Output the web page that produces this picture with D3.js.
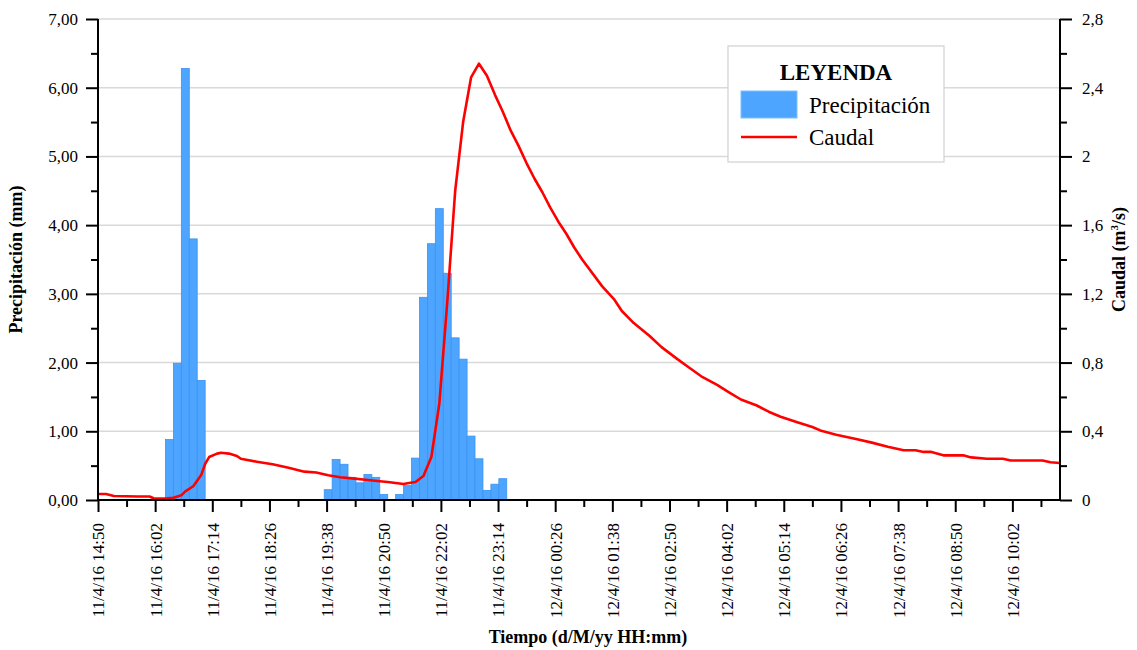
<!DOCTYPE html>
<html><head><meta charset="utf-8">
<script src="https://cdn.jsdelivr.net/npm/d3@7"></script>
<style>
body{margin:0;background:#fff}
svg{display:block}
text{font-family:"Liberation Serif","Times New Roman",serif;fill:#000}
</style>
</head><body>
<svg id="chart" width="1137" height="650"></svg>
<script>
// ---------- DATA ----------
const precipTime = [
  "11/4/16 16:20","11/4/16 16:30","11/4/16 16:40","11/4/16 16:50","11/4/16 17:00",
  "11/4/16 19:40","11/4/16 19:50","11/4/16 20:00","11/4/16 20:10","11/4/16 20:20",
  "11/4/16 20:30","11/4/16 20:40","11/4/16 20:50","11/4/16 21:00","11/4/16 21:10",
  "11/4/16 21:20","11/4/16 21:30","11/4/16 21:40","11/4/16 21:50","11/4/16 22:00",
  "11/4/16 22:10","11/4/16 22:20","11/4/16 22:30","11/4/16 22:40","11/4/16 22:50",
  "11/4/16 23:00","11/4/16 23:10","11/4/16 23:20"
];
const precipValue = [
  0.88, 1.99, 6.28, 3.80, 1.74,
  0.15, 0.59, 0.52, 0.33, 0.25,
  0.37, 0.33, 0.08, 0.00, 0.08,
  0.21, 0.61, 2.95, 3.73, 4.24,
  3.30, 2.36, 2.05, 0.93, 0.60,
  0.14, 0.23, 0.31
];

const caudalTime = [
  "11/4/16 14:50","11/4/16 15:00","11/4/16 15:10","11/4/16 15:40","11/4/16 15:55",
  "11/4/16 16:00","11/4/16 16:15","11/4/16 16:25","11/4/16 16:35","11/4/16 16:40",
  "11/4/16 16:50","11/4/16 17:00","11/4/16 17:05","11/4/16 17:10","11/4/16 17:20",
  "11/4/16 17:25","11/4/16 17:35","11/4/16 17:45","11/4/16 17:50","11/4/16 18:10",
  "11/4/16 18:30","11/4/16 18:50","11/4/16 19:10","11/4/16 19:25","11/4/16 19:40",
  "11/4/16 19:55","11/4/16 20:10","11/4/16 20:30","11/4/16 20:45","11/4/16 20:55",
  "11/4/16 21:15","11/4/16 21:20","11/4/16 21:30","11/4/16 21:40","11/4/16 21:50",
  "11/4/16 22:00","11/4/16 22:10","11/4/16 22:20","11/4/16 22:30","11/4/16 22:40",
  "11/4/16 22:50","11/4/16 23:00","11/4/16 23:10","11/4/16 23:20","11/4/16 23:30",
  "11/4/16 23:40","11/4/16 23:50","12/4/16 00:00","12/4/16 00:10","12/4/16 00:20",
  "12/4/16 00:30","12/4/16 00:40","12/4/16 00:50","12/4/16 01:00","12/4/16 01:25",
  "12/4/16 01:40","12/4/16 01:50","12/4/16 02:05","12/4/16 02:25","12/4/16 02:40",
  "12/4/16 03:00","12/4/16 03:15","12/4/16 03:30","12/4/16 03:50","12/4/16 04:05",
  "12/4/16 04:20","12/4/16 04:40","12/4/16 04:55","12/4/16 05:10","12/4/16 05:30",
  "12/4/16 05:50","12/4/16 06:00","12/4/16 06:20","12/4/16 06:45","12/4/16 07:05",
  "12/4/16 07:25","12/4/16 07:45","12/4/16 08:00","12/4/16 08:10","12/4/16 08:20",
  "12/4/16 08:35","12/4/16 09:00","12/4/16 09:10","12/4/16 09:30","12/4/16 09:50",
  "12/4/16 10:00","12/4/16 10:40","12/4/16 10:50","12/4/16 11:02"
];
const caudalValue = [
  0.035, 0.035, 0.023, 0.020, 0.020,
  0.010, 0.008, 0.013, 0.027, 0.050,
  0.080, 0.145, 0.210, 0.250, 0.270,
  0.275, 0.270, 0.256, 0.240, 0.223,
  0.208, 0.188, 0.165, 0.160, 0.144,
  0.132, 0.126, 0.116, 0.109, 0.105,
  0.093, 0.097, 0.105, 0.140, 0.250,
  0.560, 1.150, 1.800, 2.200, 2.460,
  2.540, 2.470, 2.360, 2.260, 2.150,
  2.060, 1.960, 1.870, 1.790, 1.700,
  1.620, 1.550, 1.470, 1.400, 1.245,
  1.170, 1.100, 1.030, 0.955, 0.890,
  0.820, 0.770, 0.720, 0.670, 0.627,
  0.585, 0.550, 0.514, 0.485, 0.454,
  0.425, 0.405, 0.380, 0.355, 0.334,
  0.310, 0.290, 0.290, 0.280, 0.280,
  0.260, 0.260, 0.248, 0.240, 0.240,
  0.230, 0.230, 0.220, 0.215
];

const xTickLabels = [
  "11/4/16 14:50","11/4/16 16:02","11/4/16 17:14","11/4/16 18:26","11/4/16 19:38",
  "11/4/16 20:50","11/4/16 22:02","11/4/16 23:14","12/4/16 00:26","12/4/16 01:38",
  "12/4/16 02:50","12/4/16 04:02","12/4/16 05:14","12/4/16 06:26","12/4/16 07:38",
  "12/4/16 08:50","12/4/16 10:02"
];
const xDomain = ["11/4/16 14:50", "12/4/16 11:02"];
const leftTicks = [0, 1, 2, 3, 4, 5, 6, 7];
const leftMinor = [0.5, 1.5, 2.5, 3.5, 4.5, 5.5, 6.5];
const rightTicks = [0, 0.4, 0.8, 1.2, 1.6, 2, 2.4, 2.8];
const rightMinor = [0.2, 0.6, 1.0, 1.4, 1.8, 2.2, 2.6];
const legendTitle = "LEYENDA";
const seriesNames = ["Precipitación", "Caudal"];

// ---------- CHART ----------
const SERIF = '"Liberation Serif","Times New Roman",serif';
const parse = d3.timeParse("%d/%m/%y %H:%M");
const loc = d3.formatLocale({decimal: ",", thousands: ".", grouping: [3], currency: ["", "€"]});
const fmtLeft = loc.format(".2f");
const fmtRight = loc.format(".1~f");

const svg = d3.select("#chart");
const L = 98, R = 1060, T = 19, B = 500;

const x = d3.scaleTime().domain(xDomain.map(parse)).range([L, R]);
const yL = d3.scaleLinear().domain([0, 7]).range([B, T]);
const yR = d3.scaleLinear().domain([0, 2.8]).range([B, T]);

// gridlines
svg.append("g").selectAll("line").data(leftTicks.slice(1)).join("line")
  .attr("x1", L).attr("x2", R)
  .attr("y1", d => yL(d)).attr("y2", d => yL(d))
  .attr("stroke", "#d9d9d9").attr("stroke-width", 1.5);

// bars
const bars = precipTime.map((t, i) => ({t: parse(t), v: precipValue[i]})).filter(d => d.v > 0);
svg.append("g").selectAll("rect").data(bars).join("rect")
  .attr("x", d => x(d3.timeMinute.offset(d.t, -5)))
  .attr("width", d => x(d3.timeMinute.offset(d.t, 5)) - x(d3.timeMinute.offset(d.t, -5)))
  .attr("y", d => yL(d.v))
  .attr("height", d => yL(0) - yL(d.v))
  .attr("fill", "#4da5ff")
  .attr("stroke", "#3a93f0").attr("stroke-width", 0.8);

// line
const flow = caudalTime.map((t, i) => ({t: parse(t), v: caudalValue[i]}));
svg.append("path").datum(flow)
  .attr("fill", "none").attr("stroke", "#ff0000").attr("stroke-width", 2.6)
  .attr("stroke-linejoin", "round")
  .attr("d", d3.line().x(d => x(d.t)).y(d => yR(d.v)));

// axes
function styleAxis(g) {
  g.attr("font-family", SERIF).attr("font-size", 17);
  g.select(".domain").attr("stroke", "#000").attr("stroke-width", 2);
  g.selectAll(".tick line").attr("stroke", "#000").attr("stroke-width", 2);
  g.selectAll("text").style("font-family", SERIF).style("font-size", "17px").attr("fill", "#000");
}

// x minor ticks
const xMajor = xTickLabels.map(parse);
const xMinor = xMajor.map(d => d3.timeMinute.offset(d, 36));
svg.append("g").attr("transform", `translate(0,${B})`)
  .call(d3.axisBottom(x).tickValues(xMinor).tickSize(7).tickFormat(""))
  .call(g => { g.select(".domain").remove(); g.selectAll(".tick line").attr("stroke", "#000").attr("stroke-width", 2); });

const xAxis = svg.append("g").attr("transform", `translate(0,${B})`)
  .call(d3.axisBottom(x).tickValues(xMajor).tickSize(12).tickSizeOuter(0)
    .tickFormat((d, i) => xTickLabels[i]))
  .call(styleAxis);
xAxis.select(".domain").attr("d", `M${L},0H${R}`);
xAxis.selectAll(".tick text")
  .attr("transform", "rotate(-90)")
  .attr("text-anchor", "end")
  .attr("x", -23).attr("y", 0).attr("dy", "0.35em");

// left axis
svg.append("g").attr("transform", `translate(${L},0)`)
  .call(d3.axisLeft(yL).tickValues(leftMinor).tickSize(7).tickFormat(""))
  .call(g => { g.select(".domain").remove(); g.selectAll(".tick line").attr("stroke", "#000").attr("stroke-width", 2); });
svg.append("g").attr("transform", `translate(${L},0)`)
  .call(d3.axisLeft(yL).tickValues(leftTicks).tickSize(12).tickSizeOuter(0).tickPadding(8).tickFormat(fmtLeft))
  .call(styleAxis)
  .call(g => g.select(".domain").attr("d", `M0,${T}V${B + 1}`));

// right axis
svg.append("g").attr("transform", `translate(${R},0)`)
  .call(d3.axisRight(yR).tickValues(rightMinor).tickSize(7).tickFormat(""))
  .call(g => { g.select(".domain").remove(); g.selectAll(".tick line").attr("stroke", "#000").attr("stroke-width", 2); });
svg.append("g").attr("transform", `translate(${R},0)`)
  .call(d3.axisRight(yR).tickValues(rightTicks).tickSize(12).tickSizeOuter(0).tickPadding(10).tickFormat(fmtRight))
  .call(styleAxis)
  .call(g => g.select(".domain").attr("d", `M0,${T}V${B + 1}`));

// axis titles
svg.append("text")
  .attr("transform", `translate(22,${(T + B) / 2}) rotate(-90)`)
  .attr("text-anchor", "middle").attr("font-weight", "bold").attr("font-size", 18)
  .text("Precipitación (mm)");

const rt = svg.append("text")
  .attr("transform", `translate(1125,${(T + B) / 2}) rotate(-90)`)
  .attr("text-anchor", "middle").attr("font-weight", "bold").attr("font-size", 18);
rt.append("tspan").text("Caudal (m");
rt.append("tspan").attr("font-size", 11).attr("dy", -7).text("3");
rt.append("tspan").attr("dy", 7).text("/s)");

svg.append("text")
  .attr("x", 588).attr("y", 643)
  .attr("text-anchor", "middle").attr("font-weight", "bold").attr("font-size", 18)
  .text("Tiempo (d/M/yy HH:mm)");

// legend
const lg = svg.append("g");
lg.append("rect").attr("x", 728).attr("y", 46).attr("width", 216).attr("height", 116)
  .attr("fill", "#fff").attr("stroke", "#d0d0d0").attr("stroke-width", 1.2);
lg.append("text").attr("x", 836).attr("y", 80).attr("text-anchor", "middle")
  .attr("font-weight", "bold").attr("font-size", 23).text(legendTitle);
lg.append("rect").attr("x", 741).attr("y", 91).attr("width", 56).attr("height", 27)
  .attr("fill", "#4da5ff").attr("stroke", "#7fc0ff").attr("stroke-width", 1);
lg.append("text").attr("x", 809).attr("y", 113).attr("font-size", 23).text(seriesNames[0]);
lg.append("line").attr("x1", 741).attr("x2", 797).attr("y1", 137).attr("y2", 137)
  .attr("stroke", "#ff0000").attr("stroke-width", 2.6);
lg.append("text").attr("x", 809).attr("y", 145).attr("font-size", 23).text(seriesNames[1]);
</script>
</body></html>
